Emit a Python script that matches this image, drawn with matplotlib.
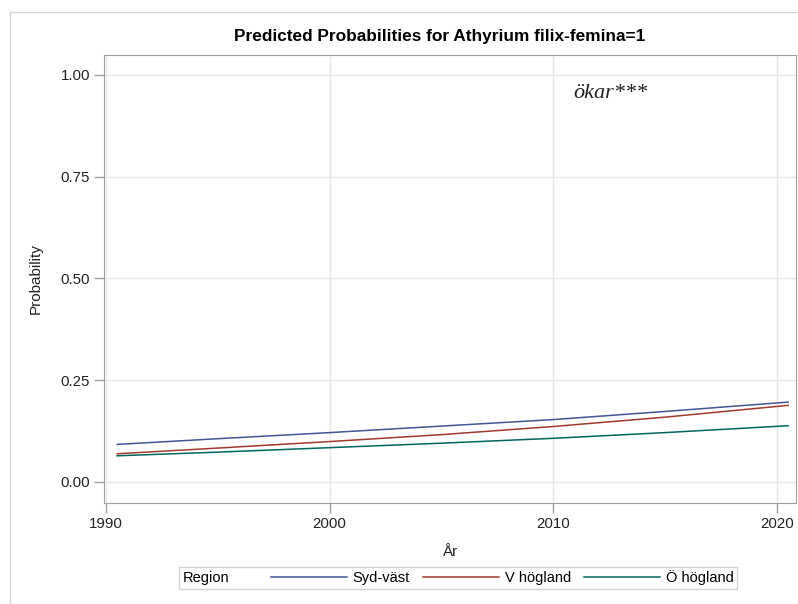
import numpy as np
import matplotlib.pyplot as plt
from matplotlib.patches import Rectangle
from matplotlib.offsetbox import HPacker

plt.rcParams['font.family'] = ['Liberation Sans', 'DejaVu Sans']

# values
years = [1990.5, 1995, 2000, 2005, 2010, 2015, 2020.5]
syd_vast = [0.092, 0.106, 0.121, 0.137, 0.153, 0.173, 0.196]
v_hogland = [0.069, 0.083, 0.099, 0.116, 0.136, 0.159, 0.188]
o_hogland = [0.064, 0.073, 0.084, 0.095, 0.107, 0.121, 0.138]
series = {'Syd-väst': syd_vast, 'V högland': v_hogland, 'Ö högland': o_hogland}
colors = ['#445694', '#A23A2E', '#01665E']

xticks = [1990, 2000, 2010, 2020]
yticks = [0.0, 0.25, 0.5, 0.75, 1.0]

W, H = 798, 604
fig = plt.figure(figsize=(W / 100, H / 100), dpi=100)

# outer frame of the graph
fig.patches.append(Rectangle((10 / W, -0.1), 1.2, 1 - 12 / H + 0.1, transform=fig.transFigure,
                             fill=False, edgecolor='#d4d4d4', linewidth=1))

ax = fig.add_axes([104 / W, 1 - 503 / H, (796 - 104) / W, (503 - 55) / H])
for (name, vals), c in zip(series.items(), colors):
    ax.plot(years, vals, color=c, linewidth=1.1, label=name)

ax.set_xlim(1989.91, 2020.85)
ax.set_ylim(-0.052, 1.049)
ax.set_xticks(xticks)
ax.set_yticks(yticks)
ax.set_yticklabels(['%.2f' % v for v in yticks])
ax.grid(True, color='#e6e6e6', linewidth=1)
ax.set_axisbelow(True)
for s in ax.spines.values():
    s.set_color('#a0a0a0')
ax.tick_params(colors='#a0a0a0', labelcolor='#222222', labelsize=10.8, length=7, width=1, pad=3)

ax.set_xlabel('År', fontsize=11, color='#222222', labelpad=10)
ax.set_ylabel('Probability', fontsize=11, color='#222222', labelpad=13)
fig.text(440 / W, 1 - 37 / H, 'Predicted Probabilities for Athyrium filix-femina=1',
         ha='center', va='center', fontsize=12.4, fontweight='bold')
ax.text(573 / W, 1 - 93 / H, 'ökar***', transform=fig.transFigure, family='Liberation Serif',
        style='italic', fontsize=16, ha='left', va='center', color='#222222')

leg = fig.legend(loc='center', bbox_to_anchor=(458 / W, 1 - 578 / H), ncol=3,
                 title='Region', title_fontsize=10.5, fontsize=10.5, frameon=True,
                 fancybox=False, edgecolor='#c8c8c8', handlelength=5.2, handletextpad=0.4,
                 columnspacing=0.9, borderpad=0.25)
leg.get_frame().set_linewidth(1)
box = HPacker(pad=leg._legend_box.pad, sep=30, align='center',
              children=[leg._legend_title_box, leg._legend_handle_box])
box.set_figure(fig)
leg._legend_box = box
leg._set_loc(leg._loc)

fig.savefig('out.png', dpi=100)
